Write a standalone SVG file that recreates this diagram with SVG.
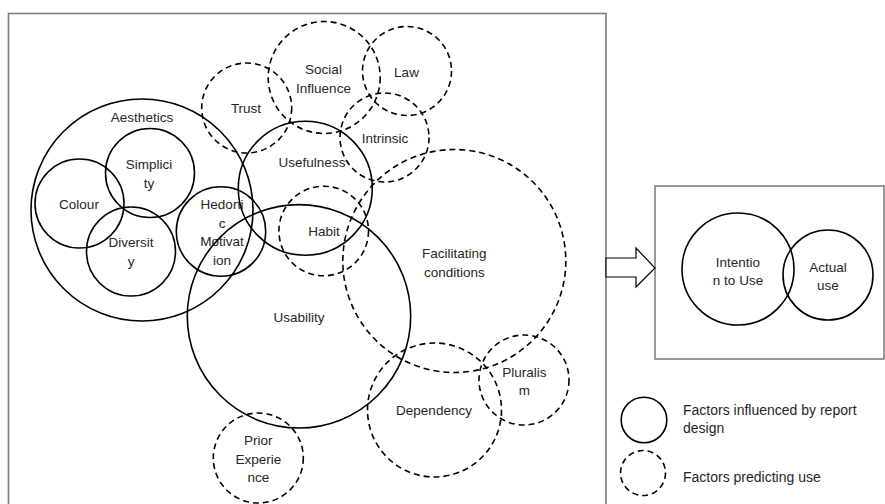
<svg xmlns="http://www.w3.org/2000/svg" width="885" height="504" viewBox="0 0 885 504">
  <defs>
    <style>
      .frame { fill: none; stroke: #7f7f7f; stroke-width: 1.6; }
      .solid { fill: none; stroke: #000; stroke-width: 1.6; }
      .dash { fill: none; stroke: #000; stroke-width: 1.6; stroke-dasharray: 6 4; }
      text { font-family: "Liberation Sans", Arial, sans-serif; font-size: 13.5px; fill: #262626; text-anchor: middle; }
      .legend text { text-anchor: start; font-size: 14px; }
    </style>
  </defs>
  <rect width="885" height="504" fill="#fff"/>

  <!-- outer frames -->
  <rect class="frame" x="8.5" y="13.5" width="597.5" height="500"/>
  <rect class="frame" x="655" y="186" width="229" height="173"/>

  <!-- factors influenced by report design -->
  <g id="aesthetics"><circle class="solid" cx="142" cy="210" r="111"/><text x="142" y="122">Aesthetics</text></g>
  <g id="simplicity"><circle class="solid" cx="150" cy="173" r="44.5"/><text x="149" y="169">Simplici</text><text x="149" y="187.5">ty</text></g>
  <g id="colour"><circle class="solid" cx="79.5" cy="203.5" r="44.5"/><text x="79" y="209">Colour</text></g>
  <g id="diversity"><circle class="solid" cx="131" cy="251.5" r="44.5"/><text x="131" y="247">Diversit</text><text x="131" y="265.5">y</text></g>
  <g id="hedonic"><circle class="solid" cx="221" cy="231.5" r="44.7"/><text x="222" y="209">Hedoni</text><text x="222" y="227.5">c</text><text x="222" y="246">Motivat</text><text x="222" y="264.5">ion</text></g>
  <g id="usefulness"><circle class="solid" cx="305.3" cy="188.3" r="67"/><text x="312" y="167">Usefulness</text></g>
  <g id="usability"><circle class="solid" cx="299" cy="316.3" r="111.7"/><text x="299" y="322">Usability</text></g>

  <!-- factors predicting use -->
  <g id="trust"><circle class="dash" cx="246.7" cy="108" r="45"/><text x="246" y="113">Trust</text></g>
  <g id="social"><circle class="dash" cx="324.2" cy="77.5" r="56"/><text x="323.5" y="74">Social</text><text x="323.5" y="92.5">Influence</text></g>
  <g id="law"><circle class="dash" cx="407" cy="71" r="44.5"/><text x="406.5" y="76.5">Law</text></g>
  <g id="intrinsic"><circle class="dash" cx="384.5" cy="137.5" r="44.5"/><text x="385" y="142.5">Intrinsic</text></g>
  <g id="habit"><circle class="dash" cx="323.7" cy="231" r="44.8"/><text x="324" y="236">Habit</text></g>
  <g id="facilitating"><circle class="dash" cx="454.3" cy="261" r="111.5"/><text x="454.3" y="258">Facilitating</text><text x="454.3" y="276.5">conditions</text></g>
  <g id="dependency"><circle class="dash" cx="434.5" cy="410" r="67"/><text x="434" y="415">Dependency</text></g>
  <g id="pluralism"><circle class="dash" cx="524" cy="380" r="45"/><text x="524.3" y="376.5">Pluralis</text><text x="524.3" y="395">m</text></g>
  <g id="prior"><circle class="dash" cx="258.3" cy="458" r="45"/><text x="258.3" y="445">Prior</text><text x="258.3" y="463.5">Experie</text><text x="258.3" y="482">nce</text></g>

  <!-- outcome -->
  <g id="intention"><circle class="solid" cx="738" cy="269" r="56"/><text x="738" y="267">Intentio</text><text x="738" y="285">n to Use</text></g>
  <g id="actual"><circle class="solid" cx="828" cy="275" r="45"/><text x="828" y="272">Actual</text><text x="828" y="290">use</text></g>

  <!-- connectors -->
  <g id="connectors">
    <polygon points="606,258 636,258 636,248 655,268 636,287 636,277 606,277" fill="#fff" stroke="#000" stroke-width="1.2"/>
  </g>

  <!-- legend -->
  <g id="legend" class="legend">
    <circle class="solid" cx="644" cy="420" r="22.8"/>
    <text x="683" y="415">Factors influenced by report</text>
    <text x="683" y="433">design</text>
    <circle class="dash" cx="643" cy="473" r="22.5"/>
    <text x="683" y="482">Factors predicting use</text>
  </g>
</svg>
